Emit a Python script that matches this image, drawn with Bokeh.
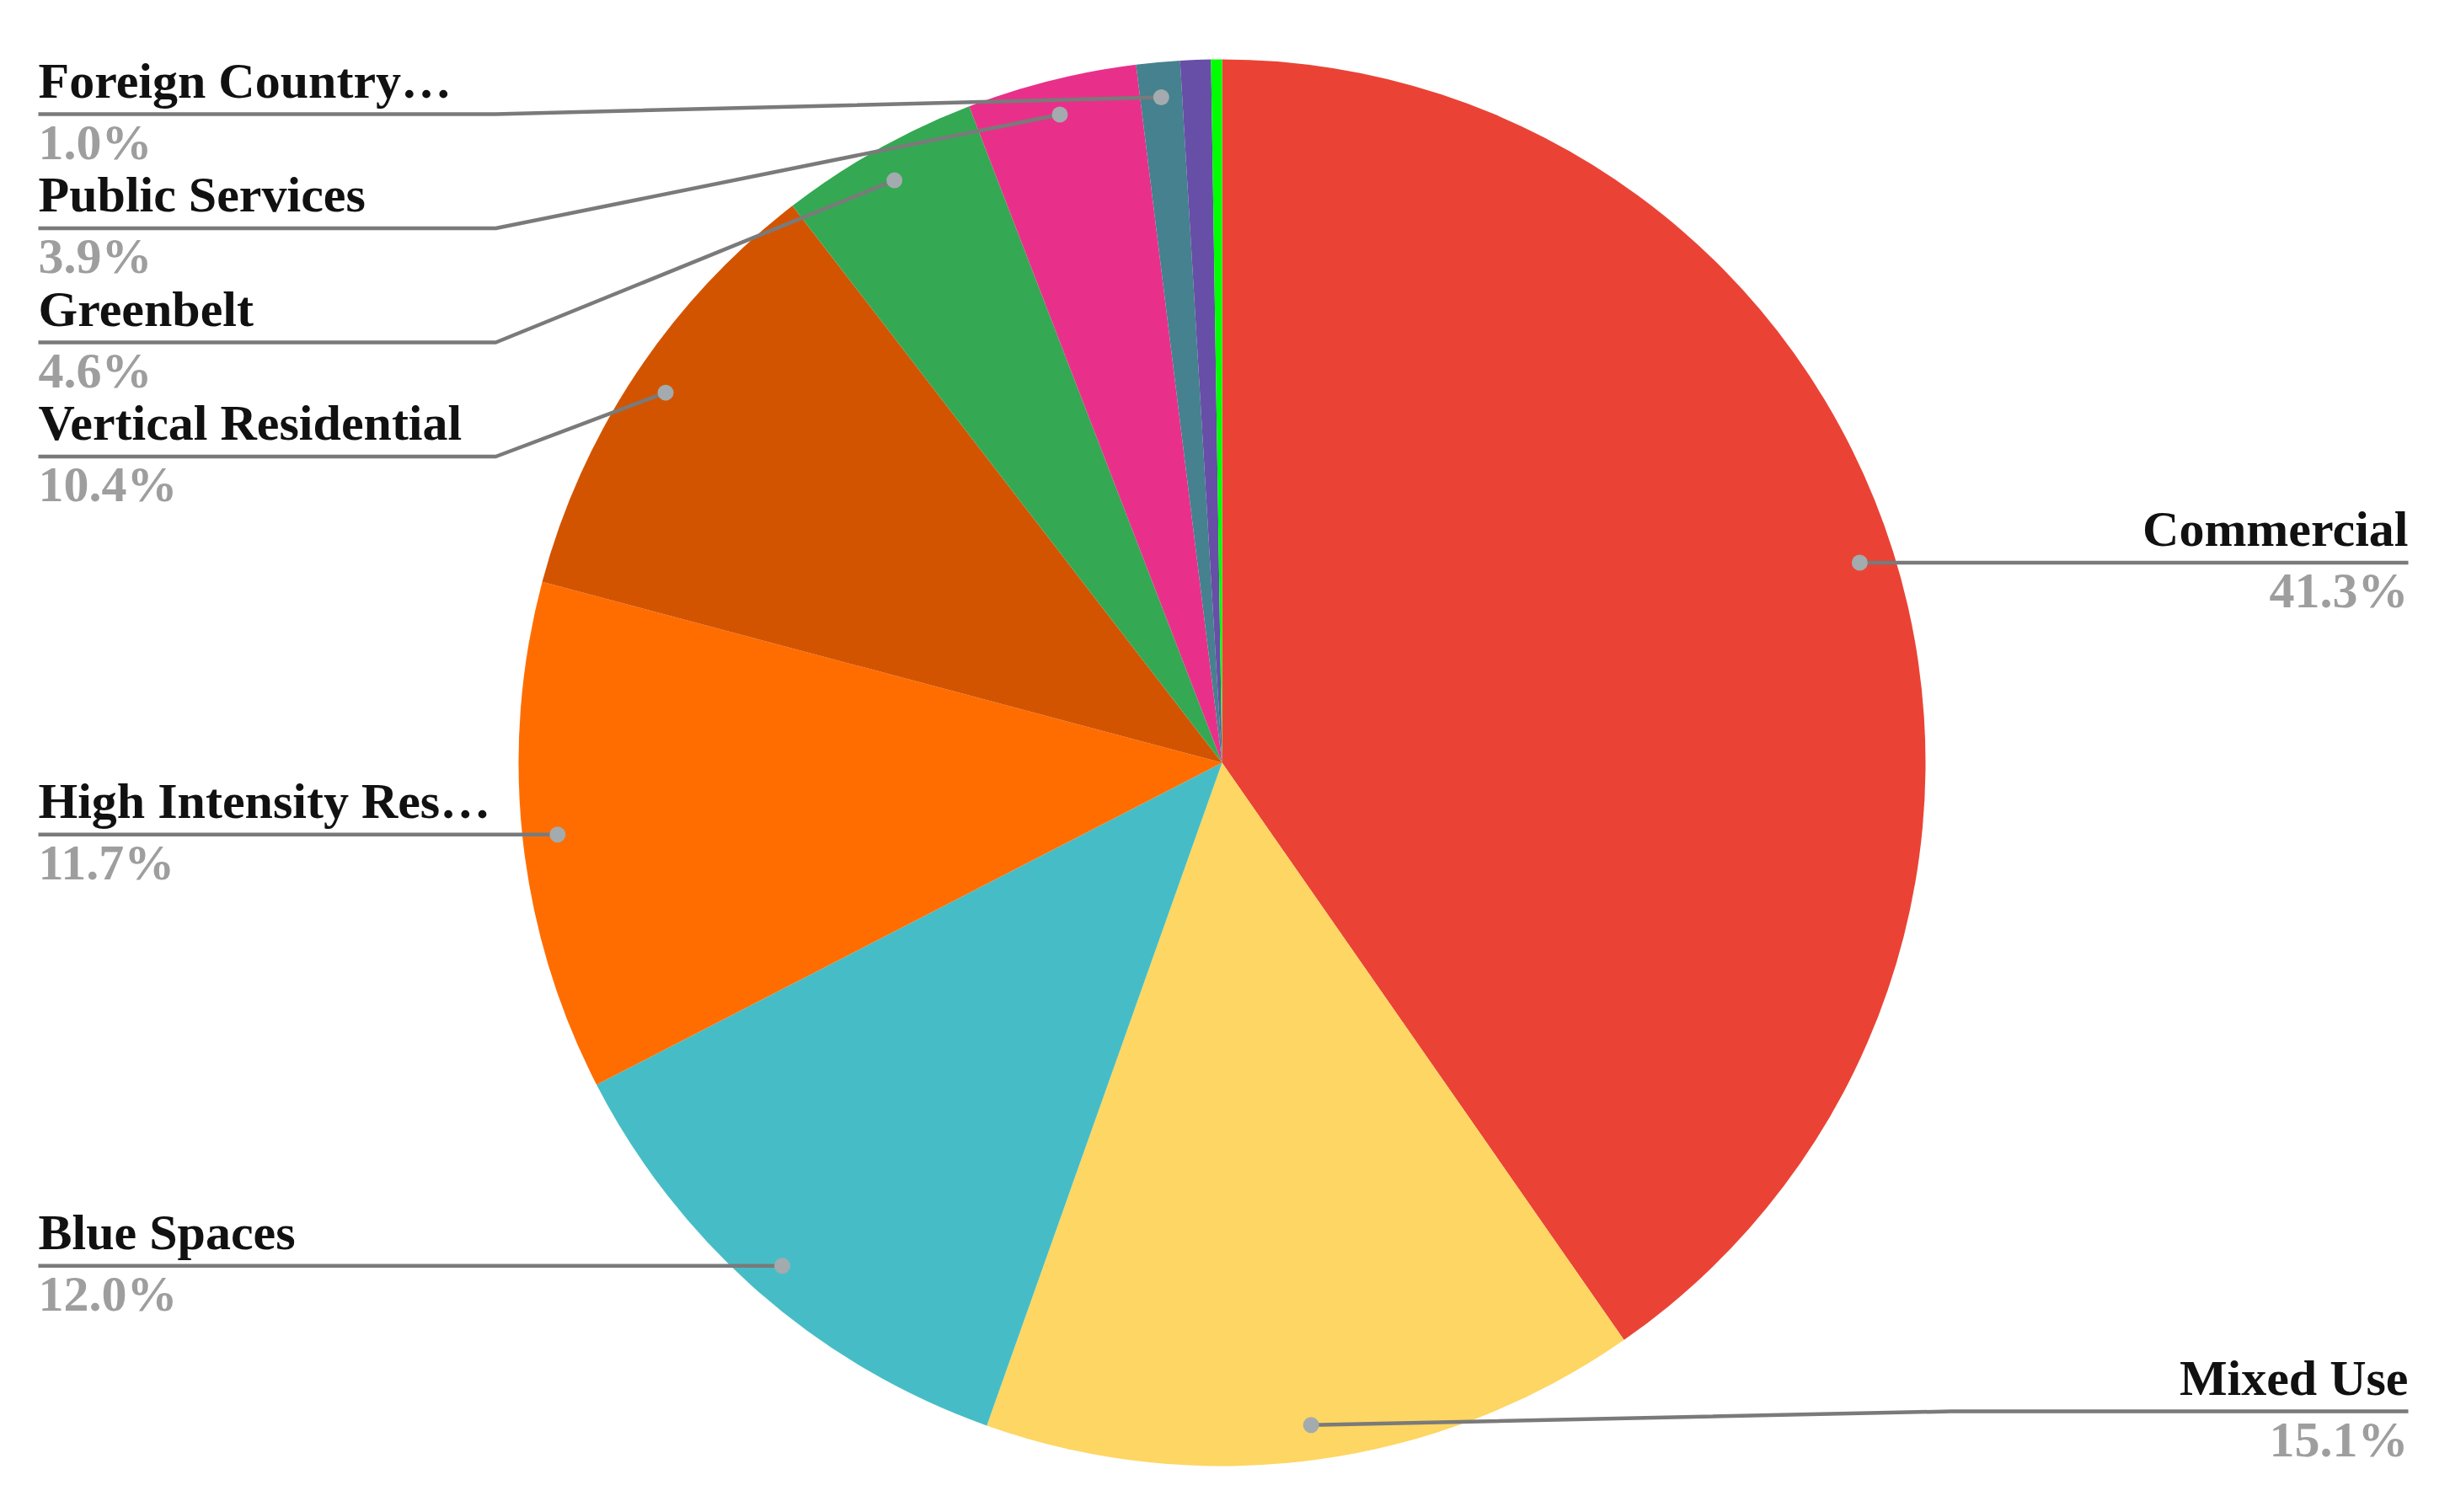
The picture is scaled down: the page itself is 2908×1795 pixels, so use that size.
import math
from bokeh.plotting import figure
from bokeh.models import Range1d, ColumnDataSource
from bokeh.core.properties import value
from bokeh.embed import file_html
from bokeh.resources import INLINE

# ---- data (clockwise from 12 o'clock) ----
categories = ["Commercial", "Mixed Use", "Blue Spaces", "High Intensity Res\u2026",
              "Vertical Residential", "Greenbelt", "Public Services",
              "Foreign Country\u2026", "Unlabeled A", "Unlabeled B"]
shares = [40.3, 15.1, 12.0, 11.7, 10.4, 4.6, 3.9, 1.0, 0.7, 0.25]
# percentage labels as printed on the chart
value_labels = ["41.3%", "15.1%", "12.0%", "11.7%", "10.4%", "4.6%", "3.9%",
                "1.0%", "", ""]
show_label = [True, True, True, True, True, True, True, True, False, False]
colors = ["#EA4335", "#FDD663", "#46BDC6", "#FF6D01", "#D35400",
          "#34A853", "#E8308A", "#45818E", "#674EA7", "#00FF00"]

# ---- layout (reference pixel space) ----
W, H = 2908, 1795
CX, CY, R = 1450, 905, 835
DOT_FR = 0.95
FONT = "Liberation Serif"
FS = "60px"
LEFT_X, LEFT_ELBOW = 45, 588
RIGHT_X, RIGHT_ELBOW = 2858, 2315
SPACING, TOP_MIN, BOTTOM_MAX = 135.5, 135, 1675
NAME_DY, PCT_DY = -40, 33


def Y(ry):
    return H - ry


p = figure(width=2892, height=1779, output_backend="svg", toolbar_location=None,
           x_range=Range1d(0, 2892), y_range=Range1d(H - 1779, H),
           x_axis_location=None, y_axis_location=None, min_border=0,
           background_fill_color="white", border_fill_color="white")
p.grid.visible = False
p.outline_line_color = None

total = sum(shares)
starts, ends, mids = [], [], []
cum = 0.0
for s in shares:
    a0 = cum / total * 2 * math.pi
    cum += s
    a1 = cum / total * 2 * math.pi
    starts.append(math.pi / 2 - a0)
    ends.append(math.pi / 2 - a1)
    mids.append((a0 + a1) / 2)  # clockwise from top

src = ColumnDataSource(dict(start=starts, end=ends, color=colors))
p.wedge(x=CX, y=Y(CY), radius=R, start_angle="start", end_angle="end",
        direction="clock", fill_color="color", line_color=None, source=src)

# dots and label placement
items = []
for i, cat in enumerate(categories):
    if not show_label[i]:
        continue
    m = mids[i]
    dx = CX + DOT_FR * R * math.sin(m)
    dy = CY - DOT_FR * R * math.cos(m)
    side = "left" if m > math.pi else "right"
    items.append(dict(i=i, dx=dx, dy=dy, side=side))

for side in ("left", "right"):
    grp = sorted([it for it in items if it["side"] == side], key=lambda t: t["dy"])
    prev = None
    for it in grp:
        y = max(it["dy"], TOP_MIN)
        if prev is not None:
            y = max(y, prev + SPACING)
        it["ly"] = y
        prev = y
    nxt = None
    for it in reversed(grp):
        y = min(it["ly"], BOTTOM_MAX)
        if nxt is not None:
            y = min(y, nxt - SPACING)
        it["ly"] = y
        nxt = y

xs, ys = [], []
nx, ny, ntxt, nalign = [], [], [], []
px_, py_, ptxt = [], [], []
for it in items:
    i = it["i"]
    ly = it["ly"]
    if it["side"] == "left":
        xs.append([LEFT_X, LEFT_ELBOW, it["dx"]])
        tx = LEFT_X
        al = "left"
    else:
        xs.append([RIGHT_X, RIGHT_ELBOW, it["dx"]])
        tx = RIGHT_X
        al = "right"
    ys.append([Y(ly), Y(ly), Y(it["dy"])])
    nx.append(tx); ny.append(Y(ly + NAME_DY)); ntxt.append(categories[i]); nalign.append(al)
    px_.append(tx); py_.append(Y(ly + PCT_DY)); ptxt.append(value_labels[i])

p.multi_line(xs=xs, ys=ys, line_color="#7A7A7A", line_width=4.5)
p.scatter(x=[it["dx"] for it in items], y=[Y(it["dy"]) for it in items],
          size=19, fill_color="#A3ABAE", line_color=None)

tsrc = ColumnDataSource(dict(x=nx, y=ny, t=ntxt, a=nalign))
p.text(x="x", y="y", text="t", text_align="a", text_baseline="alphabetic",
       text_font=value(FONT), text_font_size=FS, text_font_style="bold",
       text_color="#111111", source=tsrc)
psrc = ColumnDataSource(dict(x=px_, y=py_, t=ptxt, a=nalign))
p.text(x="x", y="y", text="t", text_align="a", text_baseline="alphabetic",
       text_font=value(FONT), text_font_size=FS, text_font_style="bold",
       text_color="#9E9E9E", source=psrc)

open("out.html", "w").write(file_html(p, INLINE))
